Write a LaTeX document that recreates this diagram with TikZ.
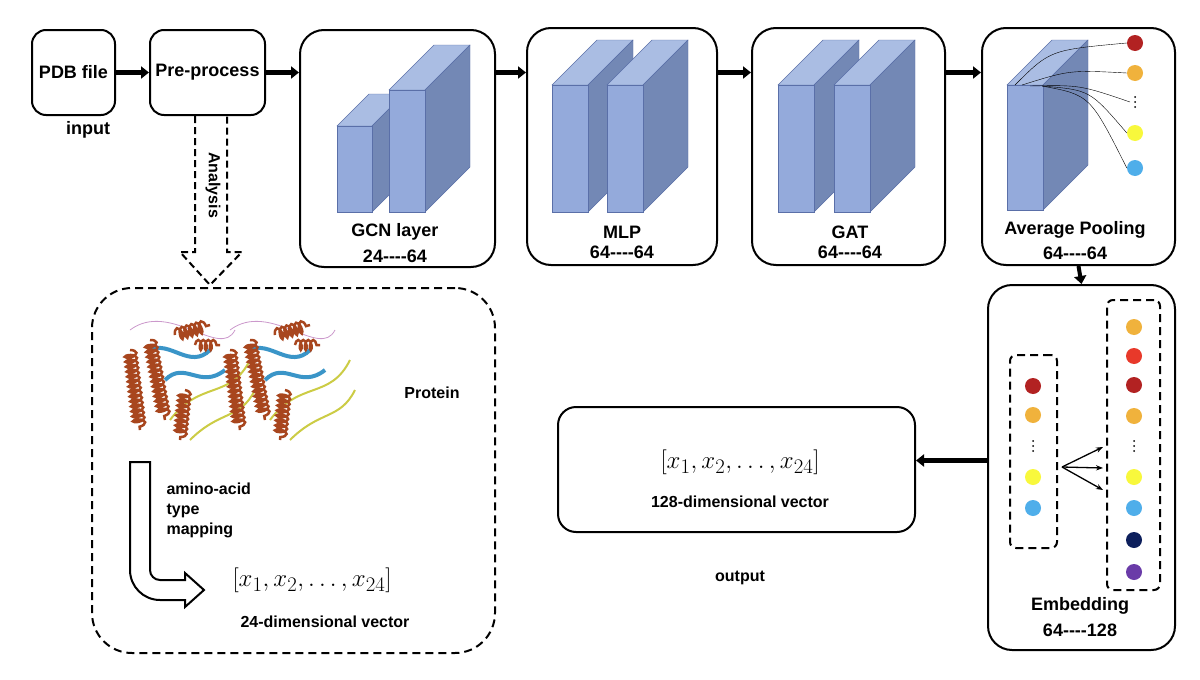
\documentclass[tikz,border=0pt]{standalone}
\usepackage{fontspec}
\setmainfont{Liberation Sans}
\usetikzlibrary{arrows.meta,decorations.pathmorphing}
\definecolor{fr}{HTML}{94AADB}
\definecolor{tp}{HTML}{AABDE3}
\definecolor{sd}{HTML}{7388B5}
\definecolor{ed}{HTML}{5A6FA8}
\definecolor{cDR}{HTML}{B22222}
\definecolor{cOR}{HTML}{F0B23C}
\definecolor{cYE}{HTML}{F8F83C}
\definecolor{cLB}{HTML}{4FAEEA}
\definecolor{cRE}{HTML}{E8392A}
\definecolor{cNV}{HTML}{0D1F5C}
\definecolor{cPU}{HTML}{6A3BA8}
\definecolor{hel}{HTML}{A8461E}
\definecolor{str}{HTML}{3A95C8}
\newcommand\blk[5]{%
 \draw[ed,fill=tp] (#1,#2)--({#1+#5},{#2-#5})--({#1+#3+#5},{#2-#5})--({#1+#3},#2)--cycle;
 \draw[ed,fill=sd] ({#1+#3},#2)--({#1+#3+#5},{#2-#5})--({#1+#3+#5},{#2+#4-#5})--({#1+#3},{#2+#4})--cycle;
 \draw[ed,fill=fr] (#1,#2) rectangle ({#1+#3},{#2+#4});}
\newcommand\dsh{-{}-{}-{}-}
\newcommand\vdt[2]{\foreach \k in {-5,0,5} \fill (#1,{#2+\k}) circle[radius=1pt];}
\tikzset{
 box/.style={draw,line width=2pt,rounded corners=14pt,font=\bfseries\fontsize{18}{21}\selectfont},
 big/.style={draw,line width=2pt,rounded corners=24pt},
 lab/.style={font=\bfseries\fontsize{18}{21}\selectfont},
 arr/.style={line width=5pt,-{Triangle[length=8pt,width=12pt]}},
 dot/.style={circle,inner sep=0pt,minimum size=16pt},
 dbox/.style={draw,line width=2pt,dash pattern=on 8pt off 5pt,rounded corners=6pt}
}
\begin{document}
\begin{tikzpicture}[x=1pt,y=-1pt]
\useasboundingbox[fill=white] (0,0) rectangle (1200,680);
% boxes
\node[box,minimum width=83pt,minimum height=85pt] (pdb) at (73.5,72.5) {PDB file};
\node[box,minimum width=115pt,minimum height=85pt] (pre) at (207.5,72.5) {Pre-process};
\node[lab] (inp) at (88,130) {input};
\node[big,minimum width=195pt,minimum height=237pt] (gcn) at (397.5,148.5) {};
\node[big,minimum width=190pt,minimum height=237pt] (mlp) at (622,146.5) {};
\node[big,minimum width=193pt,minimum height=237pt] (gat) at (848.5,146.5) {};
\node[big,minimum width=193pt,minimum height=237pt] (avg) at (1078.5,146.5) {};
\node[big,minimum width=187pt,minimum height=365pt] (emb) at (1081.5,467.5) {};
\node[big,rounded corners=18pt,minimum width=357pt,minimum height=125pt] (out) at (736.5,469.5) {};
\node[big,dash pattern=on 8pt off 5pt,rounded corners=40pt,minimum width=403pt,minimum height=365pt] (prot) at (293.5,470.5) {};
% arrows
\draw[arr] (pdb.east) -- (pre.west);
\draw[arr] (pre.east) -- (gcn.west|-pre.east);
\draw[arr] (gcn.east|-pre.east) -- (mlp.west|-pre.east);
\draw[arr] (mlp.east|-pre.east) -- (gat.west|-pre.east);
\draw[arr] (gat.east|-pre.east) -- (avg.west|-pre.east);
\draw[arr,line width=4pt] (avg.south) -- (emb.north);
\draw[arr] (emb.west|-out.west) ++(0,-9) coordinate (ea) (ea) -- (out.east|-ea);
% analysis arrow
\draw[line width=2pt,dash pattern=on 7pt off 4pt] (195,116)--(195,252)--(180,252)--(210,285)--(242,252)--(227,252)--(227,116);
\node[lab,font=\bfseries\fontsize{16}{18}\selectfont,rotate=-90] (ana) at (213,185) {Analysis};
% blocks
\blk{337}{126}{35}{86}{32}
\blk{389}{90}{36}{122}{45}
\blk{552}{85}{36}{127}{45}
\blk{607}{85}{36}{127}{45}
\blk{778}{85}{36}{127}{45}
\blk{834}{85}{36}{127}{45}
\blk{1007}{85}{36}{125}{45}
\node[lab] at (395,232) {GCN layer};
\node[lab] at (395,256) {24\dsh64};
\node[lab] at (622,232) {MLP};
\node[lab] at (622,252) {64\dsh64};
\node[lab] at (850,232) {GAT};
\node[lab] at (850,252) {64\dsh64};
\node[lab] at (1075,230) {Average Pooling};
\node[lab] at (1075,253) {64\dsh64};
% pooling dots
\node[dot,fill=cDR] (p1) at (1135,43) {};
\node[dot,fill=cOR] (p2) at (1135,73) {};
\coordinate (p3) at (1130,102);
\vdt{1135}{102}
\node[dot,fill=cYE] (p4) at (1135,133) {};
\node[dot,fill=cLB] (p5) at (1135,168) {};
\coordinate (q0) at (1042,86);
\draw (1015,85) .. controls (1050,50) .. (p1.west);
\draw (1022,85) .. controls (1070,70) .. (p2.west);
\draw (1030,86) .. controls (1080,85) .. (p3);
\draw (q0) .. controls (1090,90) .. (p4.west);
\draw (q0) .. controls (1090,95) .. (p5.west);
% embedding
\node[dbox,minimum width=47pt,minimum height=193pt] (eL) at (1033.5,451.5) {};
\node[dbox,minimum width=53pt,minimum height=290pt] (eR) at (1133.5,445) {};
\foreach \y/\c in {386/cDR,415/cOR,477/cYE,508/cLB} \node[dot,fill=\c] at (1033,\y) {};
\vdt{1033}{446}
\foreach \y/\c in {327/cOR,356/cRE,385/cDR,416/cOR,477/cYE,508/cLB,540/cNV,572/cPU} \node[dot,fill=\c] at (1134,\y) {};
\vdt{1134}{446}
\coordinate (es) at (1062,467);
\foreach \y in {447,468,490} \draw[-{Stealth[length=7pt]},line width=1.3pt] (es) -- (1103,\y);
\node[lab] at (1080,606) {Embedding};
\node[lab] at (1080,630) {64\dsh128};
% output
\node[font=\fontsize{28}{32}\selectfont] at (740,462) {$[x_1, x_2, \ldots, x_{24}]$};
\node[lab,font=\bfseries\fontsize{16}{18}\selectfont] at (740,502) {128-dimensional vector};
\node[lab,font=\bfseries\fontsize{16}{18}\selectfont] at (740,578) {output};
% protein sketch
\foreach \s in {0,100}{
 \begin{scope}[xshift=\s pt]
 \draw[violet!40,line width=0.8pt] (130,330) .. controls (170,300) and (220,360) .. (235,330);
 \draw[cYE!80!black!90,line width=2pt] (170,420) .. controls (200,380) and (230,400) .. (250,360);
 \draw[cYE!80!black!90,line width=2pt] (190,440) .. controls (220,410) and (240,420) .. (255,390);
 \draw[str,line width=4pt] (150,350) .. controls (170,340) and (190,370) .. (210,350);
 \draw[str,line width=4pt] (165,380) .. controls (185,360) and (200,390) .. (225,370);
 \draw[hel,line width=2.5pt,decorate,decoration={coil,aspect=0.4,segment length=5pt,amplitude=6pt}] (130,350) -- (140,430);
 \draw[hel,line width=2.5pt,decorate,decoration={coil,aspect=0.4,segment length=5pt,amplitude=6pt}] (150,340) -- (165,420);
 \draw[hel,line width=2.5pt,decorate,decoration={coil,aspect=0.4,segment length=5pt,amplitude=6pt}] (175,335) -- (210,325);
 \draw[hel,line width=2.5pt,decorate,decoration={coil,aspect=0.4,segment length=5pt,amplitude=6pt}] (185,390) -- (180,440);
 \draw[hel,line width=2.5pt,decorate,decoration={coil,aspect=0.4,segment length=5pt,amplitude=5pt}] (195,345) -- (220,345);
 \end{scope}}
\node[lab,font=\bfseries\fontsize{16}{18}\selectfont] at (432,393) {Protein};
\draw[line width=2pt] (130,462)--(130,570) arc[start angle=180,end angle=90,radius=30] -- (185,600)--(185,607)--(204,590)--(185,573)--(185,580)--(160,580) arc[start angle=90,end angle=180,radius=10] -- (150,462)--cycle;
\node[lab,font=\bfseries\fontsize{16}{20}\selectfont,align=left,anchor=west] at (163,510) {amino-acid\\type\\mapping};
\node[font=\fontsize{28}{32}\selectfont] at (312,580) {$[x_1, x_2, \ldots, x_{24}]$};
\node[lab,font=\bfseries\fontsize{16}{18}\selectfont] at (325,622) {24-dimensional vector};
\end{tikzpicture}
\end{document}
